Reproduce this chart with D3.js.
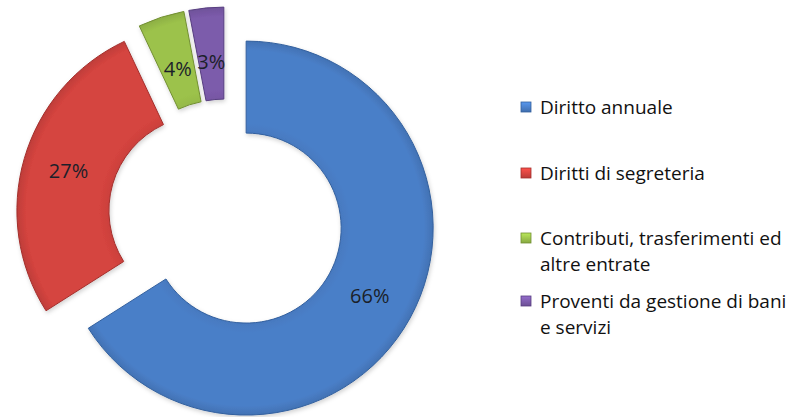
<!DOCTYPE html>
<html><head><meta charset="utf-8">
<script src="https://cdn.jsdelivr.net/npm/d3@7"></script>
<style>html,body{margin:0;padding:0;background:#fff;}svg{display:block;}</style>
</head><body>
<svg id="chart" width="809" height="417"></svg>
<script>
const categories = ["Diritto annuale","Diritti di segreteria","Contributi, trasferimenti ed altre entrate","Proventi da gestione di bani e servizi"];
const values = [66, 27, 4, 3];
const labels = ["66%","27%","4%","3%"];
const legendLines = [["Diritto annuale"],["Diritti di segreteria"],["Contributi, trasferimenti ed","altre entrate"],["Proventi da gestione di bani","e servizi"]];
const colors = ["#4a7fc8","#d5443f","#9cc24b","#7c5bab"];
const darkColors = ["#33609e","#a32f2c","#728f33","#573e80"];

const svg = d3.select("#chart");
const defs = svg.append("defs");
colors.forEach((c,i)=>{
  const g = defs.append("radialGradient").attr("id","g"+i)
    .attr("gradientUnits","userSpaceOnUse").attr("cx",0).attr("cy",0).attr("r",187);
  g.append("stop").attr("offset","0.5").attr("stop-color",d3.color(c).darker(0.15));
  g.append("stop").attr("offset","0.56").attr("stop-color",c);
  g.append("stop").attr("offset","0.95").attr("stop-color",c);
  g.append("stop").attr("offset","1").attr("stop-color",d3.color(c).darker(0.3));
  const lg = defs.append("linearGradient").attr("id","lg"+i).attr("x1",0).attr("y1",0).attr("x2",0).attr("y2",1);
  lg.append("stop").attr("offset","0").attr("stop-color",d3.color(c).brighter(0.5));
  lg.append("stop").attr("offset","1").attr("stop-color",d3.color(c).darker(0.4));
});
const sh = defs.append("filter").attr("id","shadow").attr("x","-10%").attr("y","-10%").attr("width","130%").attr("height","130%");
sh.append("feDropShadow").attr("dx",1).attr("dy",2).attr("stdDeviation",2).attr("flood-color","#000").attr("flood-opacity",0.18);

const cx = 226, cy = 217, R = 187, r = 95, explode = 23;
const pie = d3.pie().sort(null).value(d=>d).startAngle(0).endAngle(2*Math.PI);
const arcs = pie(values);
const arc = d3.arc().innerRadius(r).outerRadius(R);
const midR = (R+r)/2;

const g = svg.append("g").attr("transform",`translate(${cx},${cy})`);
const slices = g.selectAll("g.slice").data(arcs).enter().append("g").attr("class","slice")
  .attr("transform",d=>{const a=(d.startAngle+d.endAngle)/2;return `translate(${explode*Math.sin(a)},${-explode*Math.cos(a)})`;});
slices.append("path").attr("d",arc).attr("fill",(d,i)=>`url(#g${i})`)
  .attr("stroke",(d,i)=>darkColors[i]).attr("stroke-width",1).attr("filter","url(#shadow)");
slices.append("text").attr("transform",d=>{
    const a=(d.startAngle+d.endAngle)/2;
    const lr = (d.endAngle-d.startAngle) < 0.4 ? midR-8 : midR;
    return `translate(${lr*Math.sin(a)},${-lr*Math.cos(a)})`;
  })
  .attr("text-anchor","middle").attr("dy","0.36em")
  .attr("font-family","'Open Sans', sans-serif").attr("font-size",20).attr("fill","#1b1f2a")
  .text((d,i)=>labels[i]);

const legendY = [114, 180, 245, 308];
const lgG = svg.append("g");
categories.forEach((c,i)=>{
  const y = legendY[i];
  lgG.append("rect").attr("x",521).attr("y",y-12).attr("width",10).attr("height",10)
    .attr("fill",`url(#lg${i})`).attr("stroke",darkColors[i]).attr("stroke-width",0.8);
  const t = lgG.append("text").attr("x",540).attr("y",y)
    .attr("font-family","'Open Sans', sans-serif").attr("font-size",19).attr("fill","#111");
  legendLines[i].forEach((ln,j)=>{
    t.append("tspan").attr("x",540).attr("y",y+j*26).text(ln);
  });
});
</script>
</body></html>
